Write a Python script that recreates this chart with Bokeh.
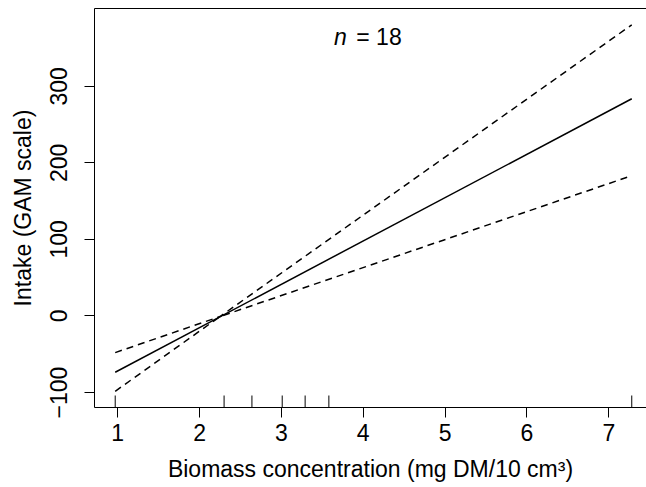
import numpy as np
from bokeh.plotting import figure
from bokeh.models import FixedTicker, LinearAxis, Label, Range1d, ColumnDataSource
from bokeh.embed import file_html
from bokeh.resources import INLINE

# ---- data ----
x_fit = [0.97, 7.28]
fit = [-73.6, 283.7]
x_ci = [0.97, 2.25, 7.28]
ci_upper = [-47.9, -0.8, 380.3]
ci_lower = [-98.4, -0.8, 183.2]
rug_x = [0.97, 2.30, 2.64, 3.01, 3.29, 3.58, 7.28]
x_ticks = [1, 2, 3, 4, 5, 6, 7]
y_ticks = [-100, 0, 100, 200, 300]
XLIM = (0.717, 7.46)
YLIM = (-119.6, 401.6)
n_obs = 18
x_title = "Biomass concentration (mg DM/10 cm\u00b3)"
y_title = "Intake (GAM scale)"

FONT = "Liberation Sans"
FS = "23px"

p = figure(width=646, height=487, x_range=Range1d(*XLIM), y_range=Range1d(*YLIM),
           output_backend="svg", toolbar_location=None,
           min_border_top=8, min_border_right=0, min_border_left=94, min_border_bottom=80)
p.outline_line_color = None
p.xgrid.visible = False
p.ygrid.visible = False
p.background_fill_color = "white"
p.border_fill_color = "white"

xax = p.below[0]
yax = p.left[0]
for ax in (xax, yax):
    ax.axis_line_color = "black"
    ax.axis_line_width = 1
    ax.major_tick_line_color = "black"
    ax.major_tick_out = 10
    ax.major_tick_in = 0
    ax.minor_tick_line_color = None
    ax.major_label_text_font = FONT
    ax.major_label_text_font_size = FS
    ax.major_label_text_color = "black"
    ax.axis_label_text_font = FONT
    ax.axis_label_text_font_size = FS
    ax.axis_label_text_font_style = "normal"
    ax.axis_label_text_color = "black"

xax.ticker = FixedTicker(ticks=x_ticks)
yax.ticker = FixedTicker(ticks=y_ticks)
yax.major_label_orientation = "vertical"
xax.axis_label = x_title
yax.axis_label = y_title
xax.major_label_standoff = 6
xax.axis_label_standoff = 12
yax.major_label_standoff = 17
yax.axis_label_standoff = 12

# top border as an empty axis
top = LinearAxis(ticker=FixedTicker(ticks=[]), major_tick_out=0, major_tick_in=0,
                 minor_tick_out=0, minor_tick_in=0, major_label_standoff=0,
                 axis_line_color="black", axis_line_width=1)
p.add_layout(top, "above")

p.line(x_fit, fit, line_color="black", line_width=1.5)
p.line(x_ci, ci_upper, line_color="black", line_width=1.5, line_dash="7 5")
p.line(x_ci, ci_lower, line_color="black", line_width=1.5, line_dash="7 5")

rug_src = ColumnDataSource(dict(x=rug_x, y=[YLIM[0]] * len(rug_x)))
p.scatter("x", "y", source=rug_src, marker="dash", size=24, angle=np.pi / 2,
          line_color="black", line_width=1)

p.add_layout(Label(x=3.644, y=364.5, text="n", text_font=FONT, text_font_size=FS,
                   text_font_style="italic", text_color="black", text_baseline="alphabetic"))
p.add_layout(Label(x=3.915, y=364.5, text=f"= {n_obs}", text_font=FONT, text_font_size=FS,
                   text_color="black", text_baseline="alphabetic"))

open("out.html", "w").write(file_html(p, INLINE))
